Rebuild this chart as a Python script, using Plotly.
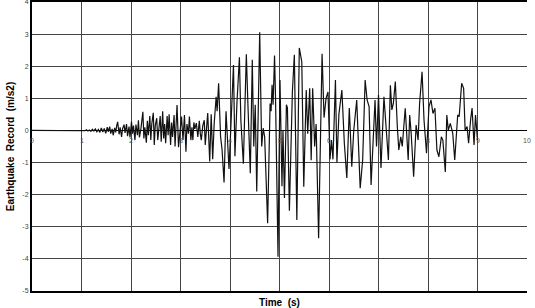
import plotly.graph_objects as go

# Earthquake record (time in s, acceleration in m/s2)
time_s = [
    0.00, 1.00, 1.04, 1.07, 1.10, 1.13, 1.16, 1.19, 1.22, 1.25, 1.28, 1.31, 1.34, 1.37, 1.40, 1.43, 1.46, 1.49,
    1.52, 1.54, 1.57, 1.59, 1.62, 1.64, 1.67, 1.69, 1.71, 1.73, 1.76, 1.78, 1.81, 1.83, 1.86, 1.88, 1.91, 1.93,
    1.96, 1.98, 2.01, 2.03, 2.05, 2.08, 2.10, 2.13, 2.15, 2.17, 2.20, 2.22, 2.24, 2.26, 2.28, 2.31, 2.33, 2.35,
    2.38, 2.40, 2.42, 2.45, 2.47, 2.49, 2.52, 2.54, 2.56, 2.59, 2.61, 2.64, 2.66, 2.68, 2.70, 2.73, 2.75, 2.77,
    2.80, 2.82, 2.84, 2.87, 2.89, 2.91, 2.93, 2.96,
    3.00, 3.02, 3.05, 3.08, 3.11, 3.13, 3.16, 3.18, 3.21, 3.23, 3.25, 3.27, 3.29, 3.32, 3.35, 3.38, 3.40, 3.42,
    3.45, 3.48, 3.50, 3.53, 3.55, 3.59, 3.62, 3.65, 3.68, 3.72, 3.74, 3.77, 3.81, 3.84, 3.88, 3.92, 3.95, 3.98,
    4.02, 4.07, 4.10, 4.14, 4.19, 4.22, 4.27, 4.33, 4.36, 4.41, 4.45, 4.48, 4.51, 4.54, 4.60, 4.64,
    4.67, 4.70, 4.76, 4.81, 4.83, 4.85, 4.87, 4.90, 4.92, 4.97, 5.01, 5.05, 5.07, 5.10, 5.14, 5.16,
    5.20, 5.26, 5.30, 5.35, 5.40, 5.45, 5.49, 5.54, 5.57, 5.61, 5.64, 5.67, 5.71, 5.74, 5.79, 5.86,
    5.90, 5.94, 5.98, 6.02, 6.05, 6.08, 6.13, 6.16, 6.20, 6.26, 6.31, 6.36, 6.41, 6.46, 6.50, 6.56, 6.63,
    6.68, 6.73, 6.77, 6.81, 6.85, 6.93, 6.96, 7.00, 7.05, 7.11, 7.16, 7.20, 7.24, 7.27, 7.30, 7.34,
    7.38, 7.41, 7.45, 7.48, 7.54, 7.60, 7.63, 7.66, 7.71, 7.76, 7.80, 7.83, 7.88, 7.92, 7.97,
    8.02, 8.06, 8.10, 8.14, 8.18, 8.22, 8.27, 8.30, 8.35, 8.38, 8.41, 8.45, 8.50, 8.54, 8.60, 8.63,
    8.68, 8.72, 8.75, 8.79, 8.82, 8.86, 8.89, 8.93, 8.96, 9.00,
]
accel_ms2 = [
    0.00, 0.00, 0.01, -0.01, 0.02, -0.02, 0.01, -0.03, 0.04, -0.02, 0.05, -0.04, 0.03, -0.06, 0.08, -0.05, 0.06, -0.09,
    0.10, -0.04, 0.12, -0.10, 0.05, -0.15, 0.08, -0.06, 0.14, 0.27, -0.12, 0.10, -0.20, 0.06, 0.18, -0.08, 0.20, -0.18,
    0.12, -0.22, 0.28, -0.10, 0.15, -0.30, 0.18, -0.15, 0.32, -0.22, 0.05, 0.35, 0.58, -0.25, 0.10, -0.38, 0.30, -0.15,
    0.45, -0.30, 0.20, 0.55, -0.45, 0.15, 0.38, -0.30, 0.10, 0.45, -0.35, 0.60, -0.25, 0.20, -0.40, 0.45, -0.15, 0.50,
    -0.45, 0.25, -0.20, 0.48, -0.50, 0.15, 0.79, -0.52,
    0.10, 0.43, -0.30, 0.48, -0.66, 0.20, -0.10, 0.43, -0.30, 0.10, -0.30, 0.25, 0.05, 0.23, -0.20, 0.30, -0.10, -0.30,
    0.15, 0.32, -0.45, 0.20, 0.54, -0.97, 0.50, -0.90, 0.20, 1.05, 0.60, 1.47, -0.20, -0.60, -1.62, 0.60, -0.20, -1.20,
    0.20, 2.04, -0.80, 0.85, 2.28, 0.30, -1.04, 2.37, 0.90, -1.33, 2.20, -0.50, 0.80, -1.90, 3.06, -0.50,
    0.07, -0.20, -2.89, 0.84, 0.60, 1.42, 0.80, 2.33, 1.00, -3.93, 1.57, -1.74, 0.00, -2.10, 0.80, 0.70,
    -2.50, 1.20, 2.36, -2.79, 2.57, 2.14, -1.75, 1.26, -0.10, 1.31, -0.93, 1.31, -0.50, 0.20, -3.36, 2.39,
    0.40, 1.00, 1.20, -0.90, -0.30, -0.90, 1.57, -1.00, 0.50, 1.26, -0.40, -1.48, 0.70, -1.13, 0.00, 0.95, -1.80,
    -0.92, 1.57, 0.95, 0.74, -1.70, 0.95, -0.50, 1.10, -1.17, 1.05, -0.09, -0.92, 1.41, 0.64, 0.84, 1.52,
    0.12, -0.61, -0.20, -0.50, 0.69, -0.92, 0.48, -0.09, -1.44, 0.17, -0.30, 0.84, 1.83, 0.32, -0.71,
    0.74, 0.95, 0.53, 0.69, -0.61, -0.82, -0.20, -0.30, -1.29, 0.48, 0.01, 0.22, -0.09, -0.92, 0.48, 0.43,
    1.47, 1.31, 0.01, 0.12, -0.40, 0.32, 0.70, -0.45, 0.48, -0.30,
]

x_ticks = list(range(0, 11))
x_tick_labels = [str(v) for v in x_ticks]
y_ticks = list(range(-5, 5))
y_tick_labels = [str(v) for v in y_ticks]
x_title = "Time\u00a0\u00a0(s)"
y_title = "Earthquake\u00a0\u00a0Record\u00a0\u00a0(m/s2)"

FONT = "Liberation Sans, Arial, sans-serif"

fig = go.Figure()
fig.add_trace(go.Scatter(
    x=time_s, y=accel_ms2, mode="lines",
    line=dict(color="#111", width=1.2), showlegend=False, hoverinfo="skip",
))

# x tick labels sit just under the zero line, as in the original
for xv, lab in zip(x_ticks, x_tick_labels):
    fig.add_annotation(x=xv, y=0, xref="x", yref="y", text=lab, showarrow=False,
                       yshift=-10, font=dict(size=7, color="#555", family=FONT))

# x axis title near the bottom edge
fig.add_annotation(x=0.5, y=0, xref="paper", yref="paper", text=x_title, showarrow=False,
                   yanchor="middle", yshift=-11,
                   font=dict(size=10, color="black", family=FONT, weight="bold"))

fig.update_layout(
    width=535, height=308,
    margin=dict(l=32, r=8, t=2, b=17, pad=0),
    paper_bgcolor="white", plot_bgcolor="white",
    font=dict(family=FONT, color="#444"),
    xaxis=dict(
        range=[0, 10], tickvals=x_ticks, showticklabels=False, automargin=False,
        showgrid=True, gridcolor="#444", gridwidth=1, zeroline=False,
        showline=True, linecolor="black", linewidth=2, mirror=True,
        ticks="",
    ),
    yaxis=dict(
        range=[-5, 4], tickvals=y_ticks, ticktext=y_tick_labels, automargin=False,
        ticklabeloverflow="allow",
        showgrid=True, gridcolor="#444", gridwidth=1, zeroline=True,
        zerolinecolor="black", zerolinewidth=1,
        showline=True, linecolor="black", linewidth=2, mirror=False,
        ticks="", tickfont=dict(size=7, color="#444"),
        title=dict(text=y_title,
                   font=dict(size=10, color="black", family=FONT, weight="bold"),
                   standoff=6),
    ),
)

fig.write_html("out.html")
